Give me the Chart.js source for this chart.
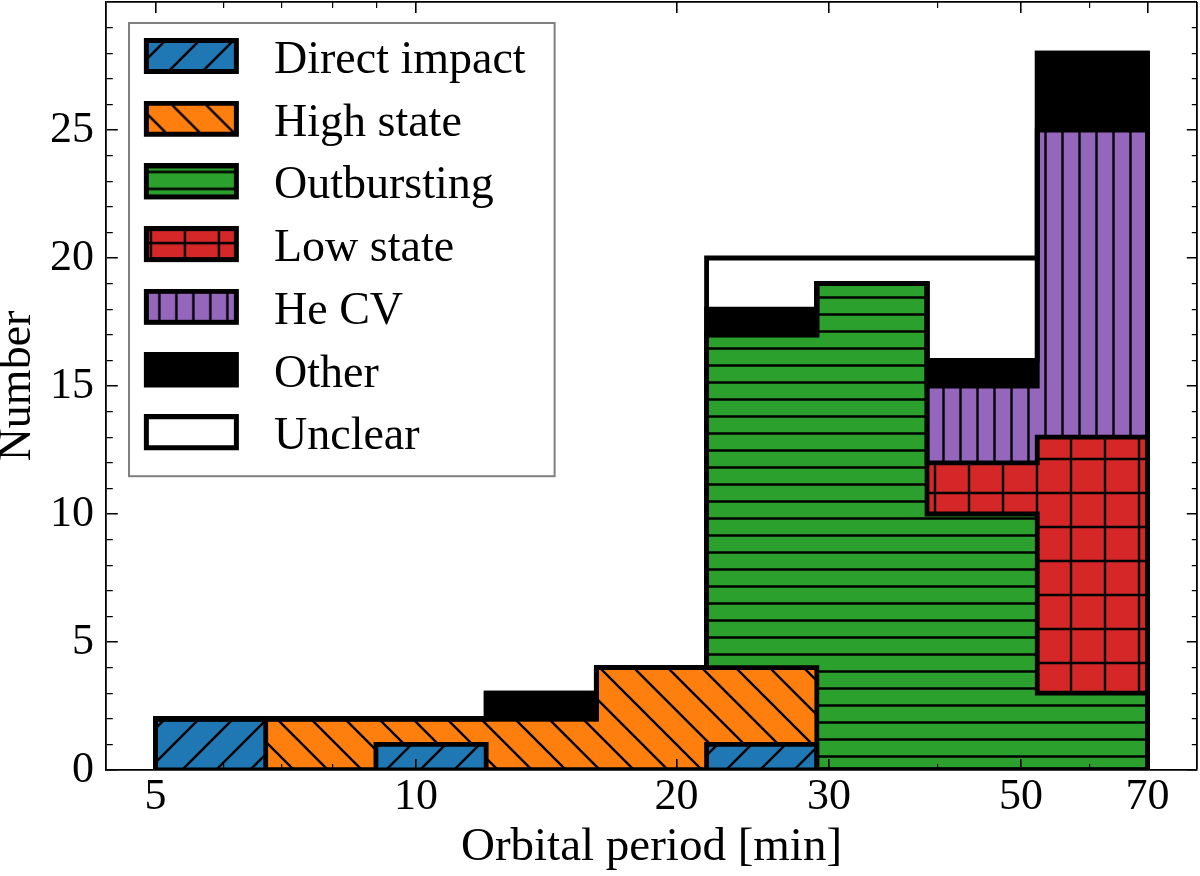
<!DOCTYPE html>
<html>
<head>
<meta charset="utf-8">
<script src="https://cdn.jsdelivr.net/npm/chart.js@4.4.1/dist/chart.umd.min.js"></script>
<style>
html, body { margin: 0; padding: 0; background: #ffffff; }
canvas { display: block; }
</style>
</head>
<body>
<canvas id="c" width="1200" height="876"></canvas>
<script>
// ---------------- data ----------------
const binEdges = [5.0, 6.704, 8.988, 12.051, 16.157, 21.662, 29.044, 38.941, 52.209, 70.0];
const seriesNames = ['Direct impact', 'High state', 'Outbursting', 'Low state', 'He CV', 'Other', 'Unclear'];
const directImpact = [2, 0, 1, 0, 0, 1, 0, 0, 0];
const highState    = [0, 2, 1, 2, 4, 3, 0, 0, 0];
const outbursting  = [0, 0, 0, 0, 0, 13, 19, 10, 3];
const lowState     = [0, 0, 0, 0, 0, 0, 0, 2, 10];
const heCV         = [0, 0, 0, 0, 0, 0, 0, 3, 12];
const other        = [0, 0, 0, 1, 0, 1, 0, 1, 3];
const unclear      = [0, 0, 0, 0, 0, 2, 1, 4, 0];
const xMajorTicks = [5, 10, 20, 30, 50, 70];
const xMinorTicks = [6, 7, 8, 9, 40, 60];
const yMajorTicks = [0, 5, 10, 15, 20, 25];
const yMinorTicks = [1, 2, 3, 4, 6, 7, 8, 9, 11, 12, 13, 14, 16, 17, 18, 19, 21, 22, 23, 24, 26, 27, 28, 29];
const xLimits = [4.383, 79.86];
const yLimits = [0, 30];

// ---------------- styles ----------------
const seriesColors = ['#1f77b4', '#ff7f0e', '#2ca02c', '#d62728', '#9467bd', '#000000', '#ffffff'];
const seriesHatches = ['/', '\\', '-', '+', '|', '', ''];
const FONT = "'Liberation Serif', 'DejaVu Serif', serif";
const TILE = 34;
const EDGE_W = 4.8;

Chart.defaults.font.family = FONT;
Chart.defaults.color = '#000000';

const series = [directImpact, highState, outbursting, lowState, heCV, other, unclear];

function hatchTile(color, hatch) {
  const c = document.createElement('canvas');
  c.width = TILE; c.height = TILE;
  const g = c.getContext('2d');
  g.fillStyle = color;
  g.fillRect(0, 0, TILE, TILE);
  g.strokeStyle = '#000000';
  g.lineWidth = 2.4;
  g.beginPath();
  const T = TILE;
  if (hatch === '/') {
    for (const k of [0, T, 2 * T]) { g.moveTo(k + 3, -3); g.lineTo(k - T - 3, T + 3); }
  } else if (hatch === '\\') {
    for (const k of [-T, 0, T]) { g.moveTo(-3, k - 3); g.lineTo(T + 3, k + T + 3); }
  } else if (hatch === '-') {
    for (const y of [T / 4, 3 * T / 4]) { g.moveTo(0, y); g.lineTo(T, y); }
  } else if (hatch === '|') {
    for (const x of [T / 4, 3 * T / 4]) { g.moveTo(x, 0); g.lineTo(x, T); }
  } else if (hatch === '+') {
    g.moveTo(0, T / 2); g.lineTo(T, T / 2);
    g.moveTo(T / 2, 0); g.lineTo(T / 2, T);
  }
  g.stroke();
  return c;
}

const canvas = document.getElementById('c');
const mainCtx = canvas.getContext('2d');
const fills = seriesColors.map((col, i) =>
  seriesHatches[i] ? mainCtx.createPattern(hatchTile(col, seriesHatches[i]), 'repeat') : col);

// legend swatches (hatched patch with thick black edge); the patch sits in the
// upper part of the image so that the label text lines up like the reference
function makeSwatch(i) {
  const cw = 106, ch = 46, sx = 10, sw = 95, sh = 36;
  const c = document.createElement('canvas');
  c.width = cw; c.height = ch;
  const g = c.getContext('2d');
  g.fillStyle = seriesHatches[i] ? g.createPattern(hatchTile(seriesColors[i], seriesHatches[i]), 'repeat') : seriesColors[i];
  g.fillRect(sx, 0, sw, sh);
  g.strokeStyle = '#000000';
  g.lineWidth = 5;
  g.strokeRect(sx + 2.5, 2.5, sw - 5, sh - 5);
  return c;
}
const swatches = seriesNames.map((_, i) => makeSwatch(i));

// ---------------- datasets built from the arrays ----------------
const binCenters = binEdges.slice(0, -1).map((e, b) => Math.sqrt(e * binEdges[b + 1]));

const barDatasets = series.map((vals, i) => ({
  type: 'bar',
  label: seriesNames[i],
  data: vals.map((v, b) => ({ x: binCenters[b], y: v })),
  backgroundColor: fills[i],
  borderWidth: 0,
  xAxisID: 'xb',
  yAxisID: 'y',
  stack: 'hist',
  grouped: false,
  order: 2,
  barPercentage: 1,
  categoryPercentage: 1
}));

// cumulative tops of each stacked level (the outline of each filled step polygon)
const levels = [series[0].map(() => 0)];
series.forEach((vals) => {
  const prev = levels[levels.length - 1];
  levels.push(vals.map((v, b) => prev[b] + v));
});

const outlineDatasets = levels.map((lv, k) => ({
  type: 'line',
  label: 'outline' + k,
  data: [{ x: binEdges[0], y: 0 }]
    .concat(lv.map((v, b) => ({ x: binEdges[b + 1], y: v })))
    .concat([{ x: binEdges[binEdges.length - 1], y: 0 }]),
  borderColor: '#000000',
  borderWidth: EDGE_W,
  borderJoinStyle: 'miter',
  borderCapStyle: 'square',
  pointRadius: 0,
  pointHoverRadius: 0,
  fill: false,
  stepped: 'after',
  tension: 0,
  xAxisID: 'x',
  yAxisID: 'y',
  stack: 'outline' + k,
  order: 1
}));

// grid lines: short dashes at both ends emulate inward ticks; the line at the
// upper limit is solid and forms the top / right frame of the axes
const xAllTicks = xMajorTicks.concat(xMinorTicks).sort((a, b) => a - b).concat([xLimits[1]]);
const yAllTicks = yMajorTicks.concat(yMinorTicks).sort((a, b) => a - b).concat([yLimits[1]]);

function xTickDash(c) {
  if (c.type !== 'tick' || !c.chart.chartArea) return [];
  if (c.tick.value === xLimits[1]) return [];
  const ca = c.chart.chartArea;
  const h = ca.bottom - ca.top;
  const L = xMajorTicks.includes(c.tick.value) ? 11 : 6;
  return [L, h - 2 * L, L, h + 200];
}
function yTickDash(c) {
  if (c.type !== 'tick' || !c.chart.chartArea) return [];
  if (c.tick.value === yLimits[1]) return [];
  const ca = c.chart.chartArea;
  const w = ca.right - ca.left;
  const L = yMajorTicks.includes(c.tick.value) ? 11 : 6;
  return [L, w - 2 * L, L, w + 200];
}
function xGridWidth(c) {
  if (!c.tick) return 1.6;
  if (c.tick.value === xLimits[1]) return 1.8;
  return xMajorTicks.includes(c.tick.value) ? 1.6 : 1.2;
}
function yGridWidth(c) {
  if (!c.tick) return 1.6;
  if (c.tick.value === yLimits[1]) return 1.8;
  return yMajorTicks.includes(c.tick.value) ? 1.6 : 1.2;
}

function noPad(s) {
  s.paddingLeft = 0; s.paddingRight = 0; s.paddingTop = 0; s.paddingBottom = 0;
}

const legendFrame = {
  id: 'legendFrame',
  afterDraw(chart) {
    const lg = chart.legend;
    if (!lg || !lg.legendHitBoxes || !lg.legendHitBoxes.length) return;
    const hb = lg.legendHitBoxes;
    const first = hb[0];
    const last = hb[hb.length - 1];
    const left = first.left + 6.3;
    const top = first.top - 15;
    const right = Math.max(...hb.map(h => h.left + h.width)) + 29;
    const bottom = last.top + last.height + 16;
    const g = chart.ctx;
    g.save();
    g.strokeStyle = '#808080';
    g.lineWidth = 2;
    g.strokeRect(left, top, right - left, bottom - top);
    g.restore();
  }
};

new Chart(canvas, {
  type: 'bar',
  data: { datasets: barDatasets.concat(outlineDatasets) },
  plugins: [legendFrame],
  options: {
    responsive: false,
    animation: false,
    layout: { padding: { top: 2, right: 3, left: 0, bottom: 0 }, autoPadding: false },
    plugins: {
      tooltip: { enabled: false },
      legend: {
        display: true,
        position: 'chartArea',
        align: 'start',
        title: { display: true, text: '', font: { size: 10, lineHeight: 1 }, padding: { top: 0, bottom: 11.3 } },
        labels: {
          usePointStyle: true,
          pointStyleWidth: 128.3,
          padding: 16.7,
          color: '#000000',
          font: { size: 46, family: FONT },
          generateLabels: () => seriesNames.map((name, i) => ({
            text: name,
            pointStyle: swatches[i],
            fillStyle: 'rgba(0,0,0,0)',
            strokeStyle: 'rgba(0,0,0,0)',
            lineWidth: 0,
            hidden: false,
            datasetIndex: i,
            fontColor: '#000000'
          }))
        }
      }
    },
    scales: {
      xb: {
        type: 'logarithmic',
        display: false,
        stacked: true,
        offset: false,
        grid: { offset: false },
        bounds: 'data',
        min: xLimits[0],
        max: xLimits[1],
        afterBuildTicks: (s) => { s.ticks = xMajorTicks.map(v => ({ value: v })); }
      },
      x: {
        type: 'logarithmic',
        position: 'bottom',
        offset: false,
        bounds: 'data',
        min: xLimits[0],
        max: xLimits[1],
        afterBuildTicks: (s) => { s.ticks = xAllTicks.map(v => ({ value: v, major: xMajorTicks.includes(v) })); },
        afterFit: (s) => { s.height = 106; noPad(s); },
        ticks: {
          autoSkip: false, maxRotation: 0, minRotation: 0, padding: 5,
          color: '#000000',
          font: { size: 44, lineHeight: 1 },
          callback: (v) => xMajorTicks.includes(v) ? String(v) : ''
        },
        grid: {
          display: true, offset: false, drawOnChartArea: true, drawTicks: false, z: 1,
          color: '#000000',
          lineWidth: xGridWidth
        },
        border: { display: true, color: '#000000', width: 1.8, z: 1, dash: xTickDash },
        title: { display: true, text: 'Orbital period [min]', color: '#000000', font: { size: 47, lineHeight: 1.2 }, padding: 0 }
      },
      y: {
        type: 'linear',
        position: 'left',
        stacked: true,
        offset: false,
        min: yLimits[0],
        max: yLimits[1],
        afterBuildTicks: (s) => { s.ticks = yAllTicks.map(v => ({ value: v, major: yMajorTicks.includes(v) })); },
        afterFit: (s) => { s.width = 106; noPad(s); },
        ticks: {
          autoSkip: false, padding: 12,
          color: '#000000',
          font: { size: 44, lineHeight: 1 },
          callback: (v) => yMajorTicks.includes(v) ? String(v) : ''
        },
        grid: {
          display: true, offset: false, drawOnChartArea: true, drawTicks: false, z: 1,
          color: '#000000',
          lineWidth: yGridWidth
        },
        border: { display: true, color: '#000000', width: 1.8, z: 1, dash: yTickDash },
        title: { display: true, text: 'Number', color: '#000000', font: { size: 46, lineHeight: 0.8 }, padding: 0 }
      }
    }
  }
});
</script>
</body>
</html>
